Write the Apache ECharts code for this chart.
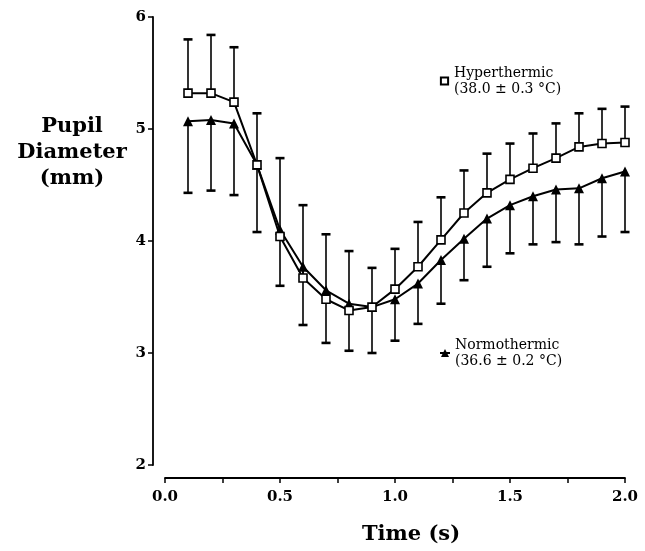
<!DOCTYPE html>
<html>
<head>
<meta charset="utf-8">
<script src="https://cdn.jsdelivr.net/npm/echarts@6/dist/echarts.min.js"></script>
<style>
html,body{margin:0;padding:0;background:#fff;}
#main{width:645px;height:551px;}
</style>
</head>
<body>
<div id="main"></div>
<script>
// Data
const times = [0.1,0.2,0.3,0.4,0.5,0.6,0.7,0.8,0.9,1.0,1.1,1.2,1.3,1.4,1.5,1.6,1.7,1.8,1.9,2.0];
const hyperMean = [5.32,5.32,5.24,4.68,4.04,3.67,3.48,3.38,3.41,3.57,3.77,4.01,4.25,4.43,4.55,4.65,4.74,4.84,4.87,4.88];
const hyperTop  = [5.80,5.84,5.73,5.14,4.74,4.32,4.06,3.91,3.76,3.93,4.17,4.39,4.63,4.78,4.87,4.96,5.05,5.14,5.18,5.20];
const normoMean = [5.07,5.08,5.05,4.68,4.10,3.77,3.56,3.44,3.41,3.48,3.62,3.83,4.02,4.20,4.32,4.40,4.46,4.47,4.56,4.62];
const normoBottom = [4.43,4.45,4.41,4.08,3.60,3.25,3.09,3.02,3.00,3.11,3.26,3.44,3.65,3.77,3.89,3.97,3.99,3.97,4.04,4.08];
const xTicks = [0.0,0.5,1.0,1.5,2.0];
const yTicks = [2,3,4,5,6];
const hyperName = 'Hyperthermic\n(38.0 ± 0.3 °C)';
const normoName = 'Normothermic\n(36.6 ± 0.2 °C)';

const FONT = 'DejaVu Serif';
const hyperPts = times.map((t,i)=>[t,hyperMean[i]]);
const normoPts = times.map((t,i)=>[t,normoMean[i]]);
const hyperErr = times.map((t,i)=>[t,hyperMean[i],hyperTop[i]]);
const normoErr = times.map((t,i)=>[t,normoMean[i],normoBottom[i]]);

function errRender(params, api){
  const x = api.value(0);
  const p0 = api.coord([x, api.value(1)]);
  const p1 = api.coord([x, api.value(2)]);
  const w = 4.5;
  return {type:'group', children:[
    {type:'line', shape:{x1:p0[0],y1:p0[1],x2:p1[0],y2:p1[1]}, style:{stroke:'#000',lineWidth:1.6}},
    {type:'line', shape:{x1:p1[0]-w,y1:p1[1],x2:p1[0]+w,y2:p1[1]}, style:{stroke:'#000',lineWidth:2.6}}
  ]};
}

const chart = echarts.init(document.getElementById('main'));
chart.setOption({
  animation:false,
  backgroundColor:'#fff',
  grid:{left:165,right:20,top:17,bottom:86},
  xAxis:{
    type:'value', min:0, max:2, interval:0.25, offset:13,
    axisLine:{onZero:false,lineStyle:{color:'#000',width:1.8}},
    axisTick:{length:5,lineStyle:{color:'#000',width:1.5}},
    splitLine:{show:false},
    axisLabel:{
      color:'#000', fontFamily:FONT, fontWeight:'bold', fontSize:15, margin:12,
      formatter:function(v){
        const m = xTicks.find(t=>Math.abs(t-v)<1e-6);
        return m===undefined ? '' : m.toFixed(1);
      }
    }
  },
  yAxis:{
    type:'value', min:2, max:6, interval:1, offset:12,
    axisLine:{show:true,onZero:false,lineStyle:{color:'#000',width:1.8}},
    axisTick:{show:true,length:5,lineStyle:{color:'#000',width:1.5}},
    splitLine:{show:false},
    axisLabel:{
      color:'#000', fontFamily:FONT, fontWeight:'bold', fontSize:15, margin:7,
      formatter:function(v){ const m = yTicks.find(t=>Math.abs(t-v)<1e-6); return m===undefined?'':String(m); }
    }
  },
  legend:[
    {data:[hyperName], left:434, top:60, orient:'vertical', itemWidth:9, itemHeight:9, itemGap:0,
     textStyle:{fontFamily:FONT, fontSize:14, color:'#000', lineHeight:16}},
    {data:[normoName], left:434, top:332, orient:'vertical', itemWidth:10, itemHeight:10, itemGap:0,
     textStyle:{fontFamily:FONT, fontSize:14, color:'#000', lineHeight:16}}
  ],
  graphic:[
    {type:'text', style:{text:'Pupil\nDiameter\n(mm)', x:72, y:114, textAlign:'center', fontFamily:FONT, fontWeight:'bold', fontSize:21, lineHeight:26, fill:'#000'}},
    {type:'text', style:{text:'Time (s)', x:411, y:524, textAlign:'center', fontFamily:FONT, fontWeight:'bold', fontSize:21, fill:'#000'}}
  ],
  series:[
    {type:'custom', name:'hyperErr', data:hyperErr, renderItem:errRender, z:1, encode:{x:0,y:[1,2]}, silent:true},
    {type:'custom', name:'normoErr', data:normoErr, renderItem:errRender, z:1, encode:{x:0,y:[1,2]}, silent:true},
    {type:'line', name:normoName, data:normoPts, symbol:'triangle', symbolSize:10, z:3,
     lineStyle:{color:'#000',width:2}, itemStyle:{color:'#000',borderColor:'#000',borderWidth:0}},
    {type:'line', name:hyperName, data:hyperPts, symbol:'rect', symbolSize:8, z:4,
     lineStyle:{color:'#000',width:2}, itemStyle:{color:'#fff',borderColor:'#000',borderWidth:1.6}}
  ]
});
</script>
</body>
</html>
